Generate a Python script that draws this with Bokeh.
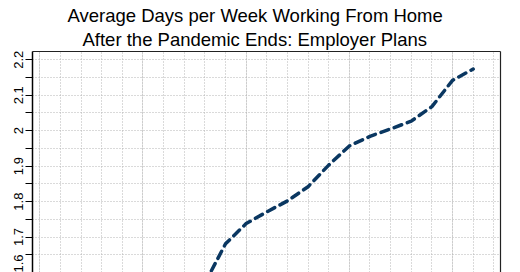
from bokeh.plotting import figure
from bokeh.models import Range1d, FixedTicker, LinearAxis, Grid, Title
from bokeh.embed import file_html
from bokeh.resources import INLINE

# Chart text
title_lines = ["Average Days per Week Working From Home",
               "After the Pandemic Ends: Employer Plans"]

# Survey months (index along the time axis) and employer-planned WFH days per week
month_index = [8, 9, 10, 11, 12, 13, 14, 15, 16, 17, 18, 19, 20, 21]
avg_days = [1.57, 1.681, 1.738, 1.771, 1.802, 1.842, 1.903, 1.957,
            1.984, 2.005, 2.027, 2.068, 2.142, 2.174]

# Y-axis ticks and their labels
y_ticks = [1.6, 1.7, 1.8, 1.9, 2.0, 2.1, 2.2]
y_tick_labels = ["1.6", "1.7", "1.8", "1.9", "2", "2.1", "2.2"]
y_half_ticks = [round((a + b) / 2, 2) for a, b in zip(y_ticks, y_ticks[1:])]

# One vertical grid line per month
month_grid = list(range(23))

FONT = "Liberation Sans"
GRID_COLOR = "#b4b4b4"
LINE_COLOR = "#0a3761"

p = figure(width=520, height=272, output_backend="svg", toolbar_location=None,
           x_range=Range1d(-0.353, 22.324), y_range=Range1d(1.6, 2.2234),
           x_axis_location=None, y_axis_location="left",
           min_border_left=32, min_border_right=20, min_border_top=51,
           min_border_bottom=0, background_fill_color="white",
           border_fill_color="white", outline_line_color=None)

# Left axis: ticks every 0.05, labels every 0.1, rotated like base-R plots
yticker = FixedTicker(ticks=y_ticks, minor_ticks=y_half_ticks)
yax = p.yaxis[0]
yax.ticker = yticker
yax.major_label_overrides = dict(zip(y_ticks, y_tick_labels))
yax.major_label_orientation = "vertical"
yax.major_label_text_font = FONT
yax.major_label_text_font_size = "13px"
yax.major_label_text_color = "black"
yax.major_label_standoff = 2
yax.major_tick_out = 7
yax.major_tick_in = 0
yax.minor_tick_out = 7
yax.minor_tick_in = 0
yax.major_tick_line_color = "black"
yax.minor_tick_line_color = "black"
yax.axis_line_color = "black"
yax.axis_line_width = 1.5

# Dotted grid
p.ygrid.ticker = yticker
p.ygrid.grid_line_color = GRID_COLOR
p.ygrid.grid_line_dash = "1 2"
p.ygrid.minor_grid_line_color = GRID_COLOR
p.ygrid.minor_grid_line_dash = "1 2"
p.add_layout(Grid(dimension=0, ticker=FixedTicker(ticks=month_grid),
                  grid_line_color=GRID_COLOR, grid_line_dash="1 2"))

# Box edges on top and right
for side in ("above", "right"):
    edge = LinearAxis(ticker=FixedTicker(ticks=[]), major_tick_out=0,
                      major_tick_in=0, minor_tick_out=0, minor_tick_in=0,
                      major_label_text_font_size="0px",
                      axis_line_color="#222222", axis_line_width=1.2)
    p.add_layout(edge, side)

# Two-line title
p.title.text = title_lines[0]
p.title.text_font = FONT
p.title.text_font_size = "18.5px"
p.title.text_font_style = "normal"
p.title.text_color = "black"
p.title.align = "left"
p.title.offset = 35
p.title.standoff = 0
p.add_layout(Title(text=title_lines[1], text_font=FONT, text_font_size="18.5px",
                   text_font_style="normal", text_color="black", align="left",
                   offset=50, standoff=3), "above")

p.line(month_index, avg_days, line_color=LINE_COLOR, line_width=3.5,
       line_dash="8 6", line_cap="round")

open("out.html", "w").write(file_html(p, INLINE))
